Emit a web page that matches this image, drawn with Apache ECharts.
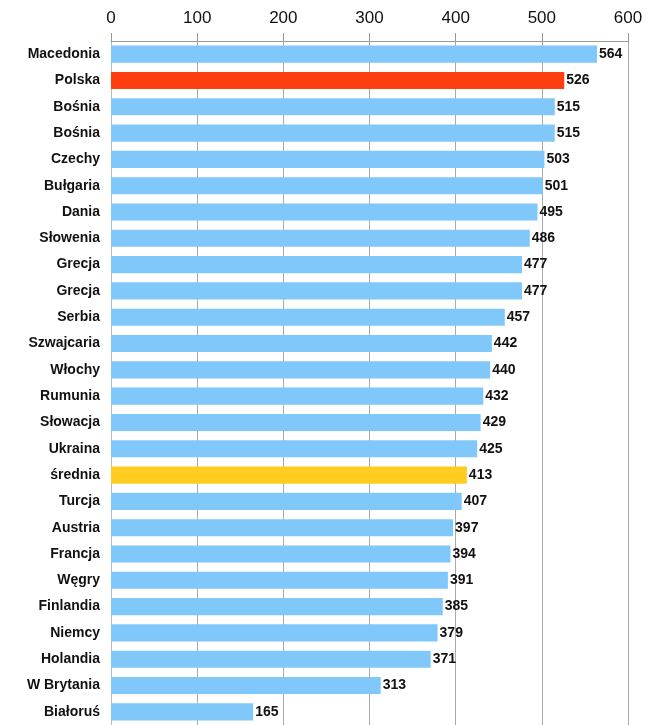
<!DOCTYPE html>
<html><head><meta charset="utf-8">
<script src="https://cdn.jsdelivr.net/npm/echarts@6/dist/echarts.min.js"></script>
<style>html,body{margin:0;padding:0;background:#fff}#c{width:647px;height:725px}</style>
</head><body><div id="c"></div>
<script>
var categories = ["Macedonia","Polska","Bośnia","Bośnia","Czechy","Bułgaria","Dania","Słowenia","Grecja","Grecja","Serbia","Szwajcaria","Włochy","Rumunia","Słowacja","Ukraina","średnia","Turcja","Austria","Francja","Węgry","Finlandia","Niemcy","Holandia","W Brytania","Białoruś"];
var values = [564,526,515,515,503,501,495,486,477,477,457,442,440,432,429,425,413,407,397,394,391,385,379,371,313,165];
var highlight = {"Polska":"#FF3F10","średnia":"#FFCC22"};
var baseColor = "#80C8FA";

var chart = echarts.init(document.getElementById('c'));
chart.setOption({
  animation:false,
  grid:{left:111,right:19,top:41,bottom:0,containLabel:false},
  xAxis:{type:'value',position:'top',min:0,max:600,interval:100,
    axisLine:{show:true,lineStyle:{color:'#999',width:1}},
    axisTick:{show:true,length:8,lineStyle:{color:'#999'}},
    axisLabel:{color:'#111',fontSize:17,fontFamily:'Liberation Sans, Arial',margin:14},
    splitLine:{show:true,lineStyle:{color:'#aaa',width:1}}},
  yAxis:{type:'category',data:categories,inverse:true,
    axisLine:{show:true,lineStyle:{color:'#bbb'}},axisTick:{show:false},
    axisLabel:{color:'#111',fontSize:14,fontWeight:'bold',fontFamily:'Liberation Sans, Arial',margin:11}},
  series:[{type:'bar',barCategoryGap:'35%',
    data:values.map(function(v,i){return {value:v,itemStyle:{color:highlight[categories[i]]||baseColor}};}),
    label:{show:true,position:'right',distance:2,color:'#111',fontSize:14,fontWeight:'bold',fontFamily:'Liberation Sans, Arial'}}]
});
</script></body></html>
